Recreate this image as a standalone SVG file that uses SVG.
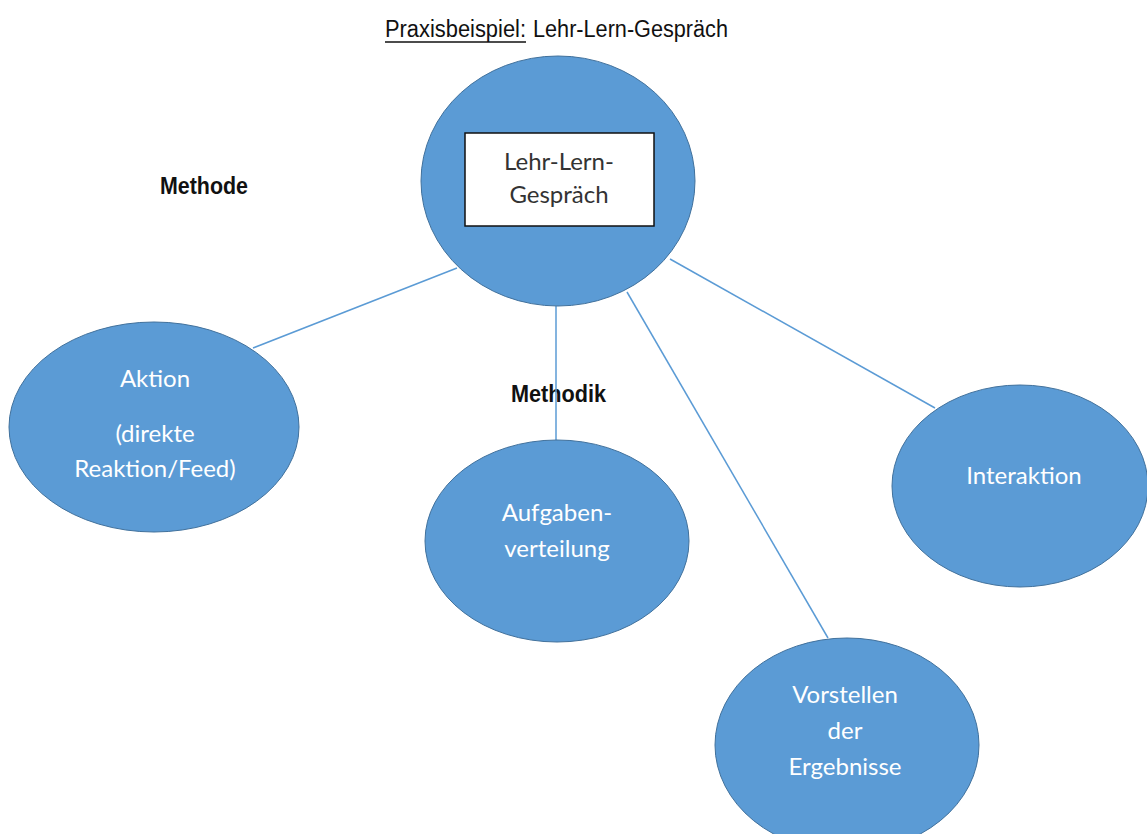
<svg xmlns="http://www.w3.org/2000/svg" width="1147" height="834" viewBox="0 0 1147 834">
<style>
.node{fill:#5b9bd5;stroke:#41719c;stroke-width:1}
.lbl{font-family:Lato,"Open Sans",sans-serif;font-size:24px;fill:#ffffff;text-anchor:middle}
.blk{font-family:Lato,"Open Sans",sans-serif;font-size:24px;fill:#333;text-anchor:middle}
.hd{font-family:"Liberation Sans",Arial,sans-serif;font-size:23px;fill:#111}
.bd{font-family:"Liberation Sans",Arial,sans-serif;font-size:23px;font-weight:bold;fill:#111}
.conn line{stroke:#5b9bd5;stroke-width:1.5}
</style>
<rect width="1147" height="834" fill="#ffffff"/>
<g id="title">
<text class="hd" x="385" y="37" textLength="141" lengthAdjust="spacingAndGlyphs">Praxisbeispiel:</text>
<line x1="385" y1="42" x2="526" y2="42" stroke="#111" stroke-width="1.5"/>
<text class="hd" x="533" y="37" textLength="195" lengthAdjust="spacingAndGlyphs">Lehr-Lern-Gespräch</text>
</g>
<g id="labels">
<text class="bd" x="160" y="194" textLength="88" lengthAdjust="spacingAndGlyphs">Methode</text>
<text class="bd" x="511" y="402" textLength="95" lengthAdjust="spacingAndGlyphs">Methodik</text>
</g>
<g class="conn" id="connectors">
<line x1="457" y1="268" x2="253" y2="348"/>
<line x1="556" y1="306" x2="556" y2="440"/>
<line x1="627" y1="292" x2="828" y2="638"/>
<line x1="670" y1="259" x2="935" y2="408"/>
</g>
<g id="center">
<ellipse class="node" cx="558" cy="181" rx="137" ry="125"/>
<rect x="465" y="133" width="189" height="93" fill="#ffffff" stroke="#111" stroke-width="1.5"/>
<text class="blk" x="559" y="170">Lehr-Lern-</text>
<text class="blk" x="559" y="203">Gespräch</text>
</g>
<g id="aktion">
<ellipse class="node" cx="154" cy="427" rx="145" ry="105"/>
<text class="lbl" x="155" y="387">Aktion</text>
<text class="lbl" x="155" y="442">(direkte</text>
<text class="lbl" x="155" y="477">Reaktion/Feed)</text>
</g>
<g id="aufgaben">
<ellipse class="node" cx="557" cy="541" rx="132" ry="101"/>
<text class="lbl" x="557" y="521">Aufgaben-</text>
<text class="lbl" x="557" y="557">verteilung</text>
</g>
<g id="interaktion">
<ellipse class="node" cx="1020" cy="486" rx="128" ry="101"/>
<text class="lbl" x="1024" y="484">Interaktion</text>
</g>
<g id="vorstellen">
<ellipse class="node" cx="847" cy="745" rx="132" ry="107"/>
<text class="lbl" x="845" y="703">Vorstellen</text>
<text class="lbl" x="845" y="739">der</text>
<text class="lbl" x="845" y="775">Ergebnisse</text>
</g>
</svg>
